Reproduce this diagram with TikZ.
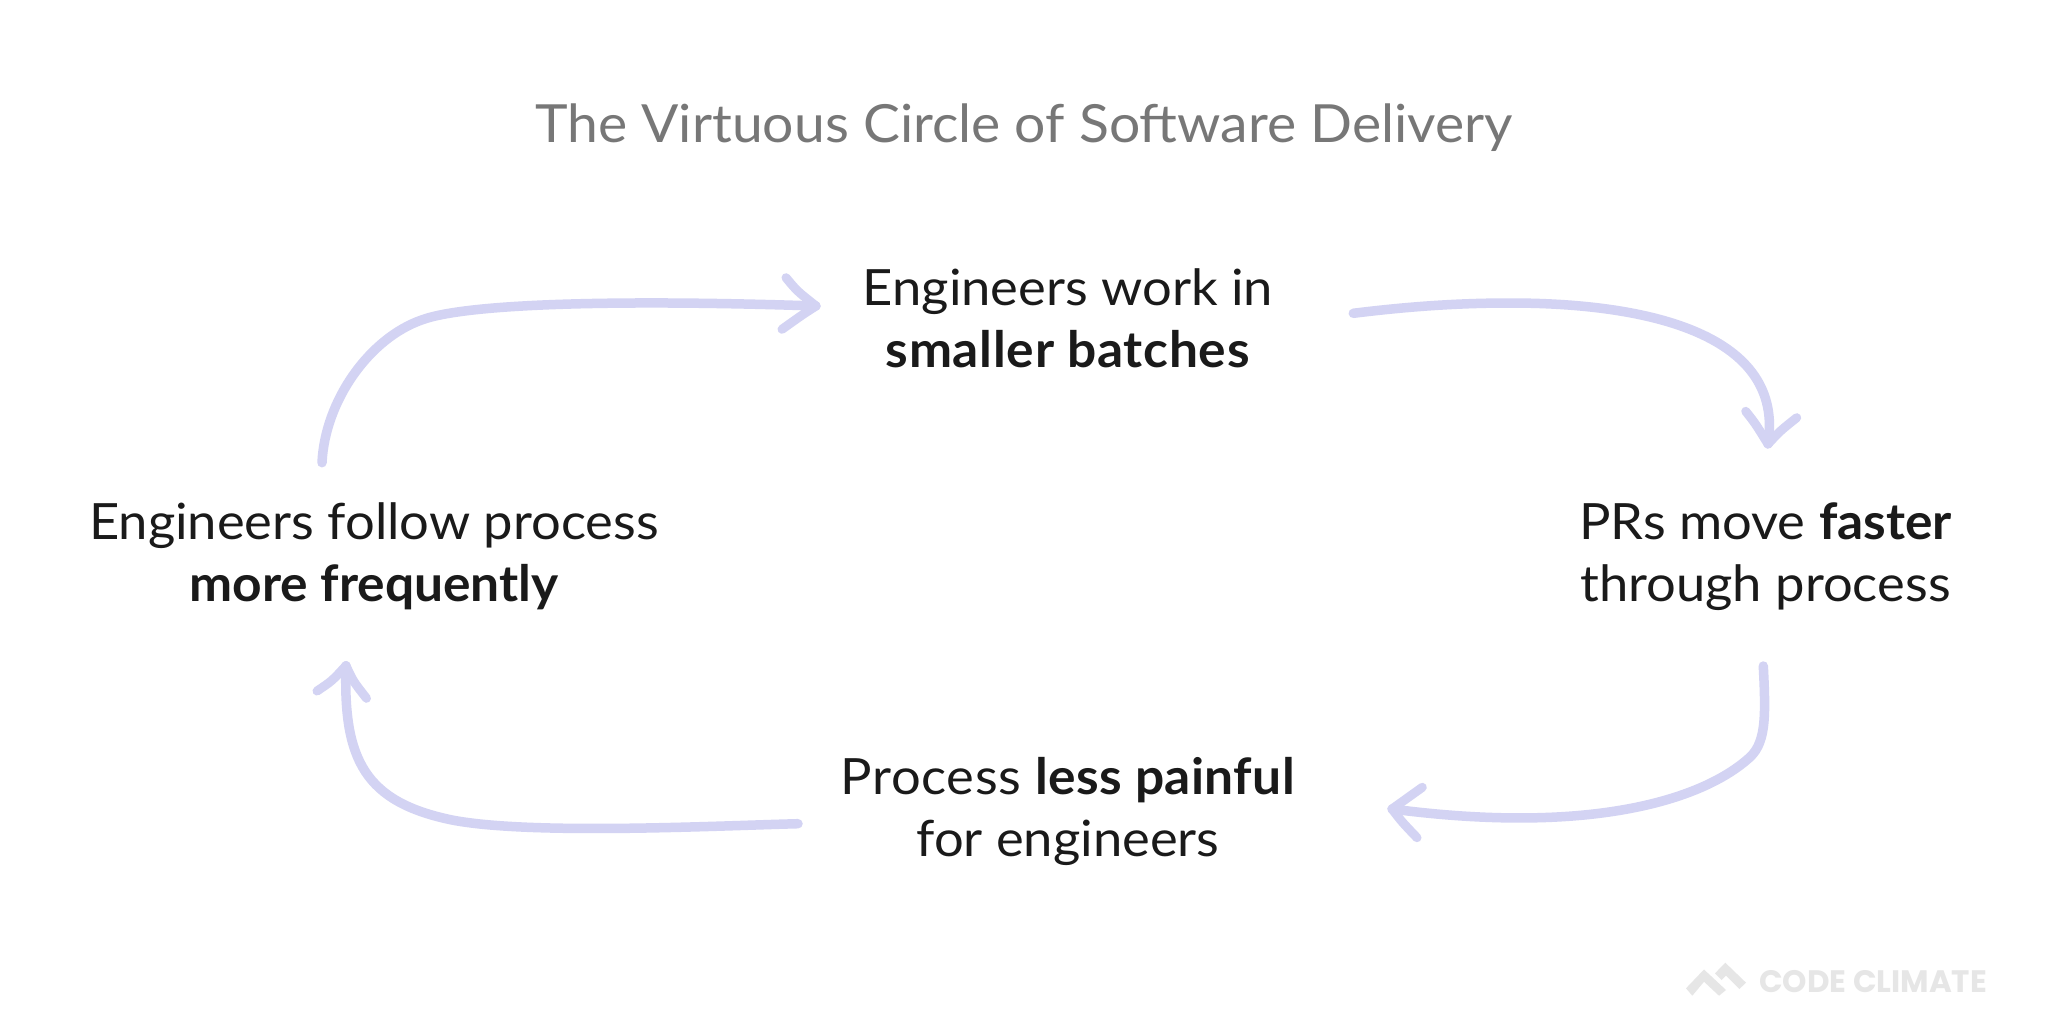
\documentclass[tikz,border=0pt]{standalone}
\usepackage{fontspec}
\setmainfont{Lato}[FakeStretch=1.05,BoldFeatures={FakeStretch=1.03}]
\newfontfamily\brandfont{Poppins}
\definecolor{arrowc}{HTML}{D3D3F3}
\definecolor{inkc}{HTML}{1A1A1A}
\definecolor{titlec}{HTML}{777777}
\definecolor{logoc}{HTML}{E6E6E6}
\newcommand{\spaced}[2]{{\addfontfeature{LetterSpace=#1}#2}}
\tikzset{
  label/.style={text=inkc,align=center,inner sep=0pt,font=\fontsize{50}{62}\selectfont},
  flow/.style={draw=arrowc,line width=9.5pt,line cap=round,line join=round},
  head/.style={draw=arrowc,line width=9pt,line cap=round,line join=round},
}
\begin{document}
\begin{tikzpicture}[x=1pt,y=-1pt]
\useasboundingbox (0,0) rectangle (2048,1036);
\fill[white] (0,0) rectangle (2048,1036);
\node[text=titlec,inner sep=0pt,font=\fontsize{52.6}{60}\selectfont] (title) at (1024,127.5) {The Virtuous Circle of Software Delivery};
\node[label] (top) at (1068,318.5) {Engineers work in\\\textbf{\spaced{1.4}{smaller batches}}};
\node[label] (right) at (1765.5,556.5) {PRs move \textbf{faster}\\through process};
\node[label] (bottom) at (1068,811.5) {\spaced{1.3}{Process} \textbf{\spaced{0.8}{less painful}}\\for engineers};
\node[label] (left) at (374,556) {Engineers follow process\\\textbf{more frequently}};
\coordinate (a1s) at (322,462.7);
\coordinate (a1t) at (816,306);
\coordinate (a1a) at (786,277.7);
\coordinate (a1b) at (782,329.3);
\coordinate (a2s) at (1353.3,313.3);
\coordinate (a2t) at (1768,444);
\coordinate (a2a) at (1745.7,411.3);
\coordinate (a2b) at (1796.7,417.7);
\coordinate (a3s) at (1763.3,666);
\coordinate (a3t) at (1392,809);
\coordinate (a3a) at (1422.3,787.3);
\coordinate (a3b) at (1417,837.7);
\coordinate (a4s) at (798,823.7);
\coordinate (a4t) at (346,665.7);
\coordinate (a4a) at (317,691);
\coordinate (a4b) at (366.5,698.3);
\draw[flow] (a1s) .. controls (325,400) and (370,338) .. (421.6,320) .. controls (470,302) and (640,300) .. (a1t);
\draw[head] (a1a) .. controls (797,291) .. (a1t) .. controls (802,315) .. (a1b);
\draw[flow] (a2s) .. controls (1420,305) and (1470,303) .. (1510,303) .. controls (1650,303) and (1785,335) .. (a2t);
\draw[head] (a2a) .. controls (1755,423) .. (a2t) .. controls (1780,431) .. (a2b);
\draw[flow] (a3s) .. controls (1766,720) and (1766,745) .. (1746.7,760) .. controls (1700,800) and (1590,835) .. (a3t);
\draw[head] (a3a) .. controls (1407,798) .. (a3t) .. controls (1402,822) .. (a3b);
\draw[flow] (a4s) .. controls (710,826) and (530,835) .. (452,820) .. controls (365,802) and (343,760) .. (a4t);
\draw[head] (a4a) .. controls (332,681) .. (a4t) .. controls (353,681) .. (a4b);
\fill[logoc] (1686,988.3) -- (1704,969.5) -- (1726,990) -- (1719,995.7) -- (1704,981.7) -- (1692.3,995.7) -- cycle;
\fill[logoc] (1715,973.3) -- (1725.3,962.7) -- (1746,982.7) -- (1739.3,989) -- (1726,975.7) -- (1721.7,980) -- cycle;
\node[text=logoc,inner sep=0pt,anchor=base west,font=\fontsize{31}{36}\selectfont\brandfont\bfseries] (brand) at (1759,992) {CODE CLIMATE};
\end{tikzpicture}
\end{document}
